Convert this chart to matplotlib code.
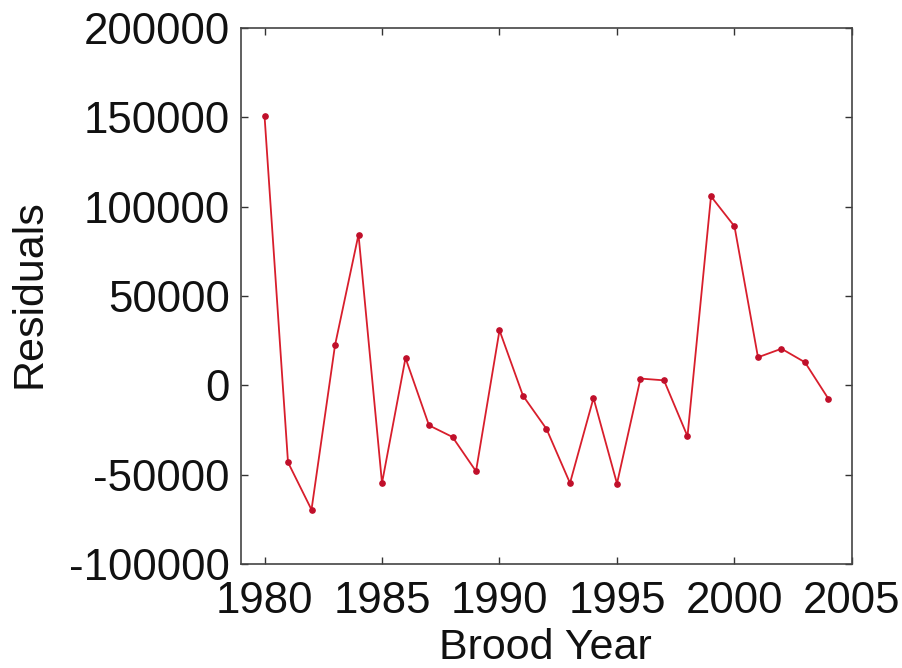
import matplotlib
matplotlib.use("Agg")
import matplotlib.pyplot as plt

years = list(range(1980, 2005))
residuals = [151000, -43100, -69600, 22400, 84400, -54700, 15300, -22400,
             -28900, -48100, 30800, -5800, -24400, -54700, -7100, -55000,
             3800, 2800, -28500, 105800, 89000, 15700, 20500, 12900, -7600]
x_ticks = [1980, 1985, 1990, 1995, 2000, 2005]
y_ticks = [-100000, -50000, 0, 50000, 100000, 150000, 200000]

plt.rcParams['font.family'] = ['Liberation Sans', 'DejaVu Sans']

fig = plt.figure(figsize=(9.03, 6.68), dpi=100)
ax = fig.add_axes([0.2669, 0.1557, 0.6766, 0.8023])
ax.plot(years, residuals, color='#d81e2c', lw=1.3, marker='o', ms=3.8,
        mfc='#c00f2a', mec='#c00f2a')
ax.set_xlim(1979, 2005)
ax.set_ylim(-100000, 200000)
ax.set_xticks(x_ticks)
ax.set_yticks(y_ticks)
ax.set_xticklabels([str(t) for t in x_ticks])
ax.set_yticklabels([str(t) for t in y_ticks])
ax.tick_params(direction='in', length=5, width=1, top=True, right=True,
               labelsize=31.5, colors='#333333', labelcolor='#111111')
ax.tick_params(axis='x', pad=12.5)
ax.tick_params(axis='y', pad=8)
for s in ax.spines.values():
    s.set_color('#444444')
    s.set_linewidth(1.2)
ax.set_xlabel('Brood Year', fontsize=31, va='baseline', color='#111111')
ax.xaxis.set_label_coords(0.498, -0.1772)
ax.set_ylabel('Residuals', fontsize=31, va='baseline', color='#111111')
ax.yaxis.set_label_coords(-0.329, 0.504)
fig.savefig('out.png', dpi=100)
